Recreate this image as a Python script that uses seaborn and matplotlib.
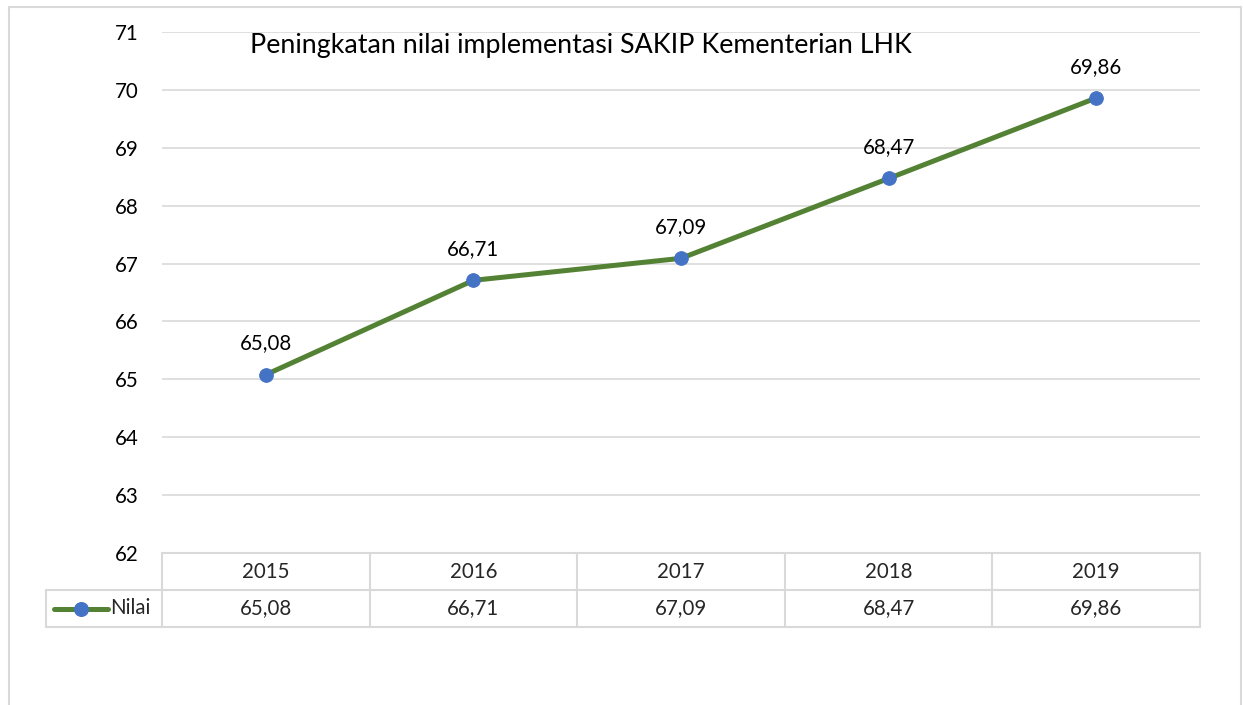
import matplotlib.pyplot as plt
import matplotlib.transforms as mtransforms
from matplotlib.patches import Rectangle
import seaborn as sns

# data
years = ['2015', '2016', '2017', '2018', '2019']
nilai = [65.08, 66.71, 67.09, 68.47, 69.86]
series_name = 'Nilai'
title = 'Peningkatan nilai implementasi SAKIP Kementerian LHK'

green = '#548235'
blue = '#4472C4'
grid_col = '#D9D9D9'
fs = 14.8


def fmt(v):
    return f'{v:.2f}'.replace('.', ',')


sns.set_theme(style='white')
plt.rcParams['font.family'] = ['Lato', 'DejaVu Sans']

fig = plt.figure(figsize=(12.43, 7.05), dpi=100)
ax = fig.add_axes([162 / 1243, 1 - 553 / 705, 1038 / 1243, 521 / 705])

pos = list(range(len(years)))
sns.lineplot(x=pos, y=nilai, ax=ax, color=green, linewidth=3.6, marker='o',
             markersize=9.8, markerfacecolor=blue, markeredgecolor=blue, zorder=3)

ax.set_xlim(-0.5, len(years) - 0.5)
ax.set_ylim(62, 71)
ax.set_yticks(range(62, 72))
ax.set_xticks([])
ax.yaxis.grid(True, color=grid_col, linewidth=1.2)
ax.tick_params(axis='y', length=0, pad=17, labelsize=fs, labelcolor='black')
for s in ax.spines.values():
    s.set_visible(False)

for i, v in enumerate(nilai):
    ax.annotate(fmt(v), (i, v), xytext=(0, 22.5), textcoords='offset points',
                ha='center', va='center', fontsize=fs, color='black')

fig.text(581 / 1243, 1 - 45 / 705, title, ha='center', va='center', fontsize=19.3, color='black')

# data table under the axes
tr = mtransforms.blended_transform_factory(ax.transData, ax.transAxes)
rh = 37 / 521
left_x = -0.5 - 116 / 207.6
n = len(years)
lk = dict(color=grid_col, linewidth=1.5, transform=tr, clip_on=False)
ax.plot([-0.5, n - 0.5], [0, 0], **lk)
ax.plot([left_x, n - 0.5], [-rh, -rh], **lk)
ax.plot([left_x, n - 0.5], [-2 * rh, -2 * rh], **lk)
ax.plot([left_x, left_x], [-rh, -2 * rh], **lk)
for i in range(n + 1):
    ax.plot([i - 0.5, i - 0.5], [0, -2 * rh], **lk)
for i, (yr, v) in enumerate(zip(years, nilai)):
    ax.text(i, -0.5 * rh, yr, transform=tr, ha='center', va='center', fontsize=fs)
    ax.text(i, -1.5 * rh, fmt(v), transform=tr, ha='center', va='center', fontsize=fs)

# legend key inside the table
kx0 = left_x + 8 / 207.6
kx1 = left_x + 62 / 207.6
ax.plot([kx0, kx1], [-1.5 * rh, -1.5 * rh], color=green, linewidth=3.6,
        solid_capstyle='round', transform=tr, clip_on=False)
ax.plot([(kx0 + kx1) / 2], [-1.5 * rh], marker='o', markersize=9.8, color=blue,
        transform=tr, clip_on=False)
ax.text(kx1 + 2 / 207.6, -1.5 * rh, series_name, transform=tr, ha='left', va='center', fontsize=fs)

# chart area border
fig.patches.append(Rectangle((9 / 1243, -0.05), 1232 / 1243, 1.05 - 7 / 705,
                             transform=fig.transFigure, fill=False,
                             edgecolor=grid_col, linewidth=1.5))

fig.savefig('out.png', dpi=100, facecolor='white')
